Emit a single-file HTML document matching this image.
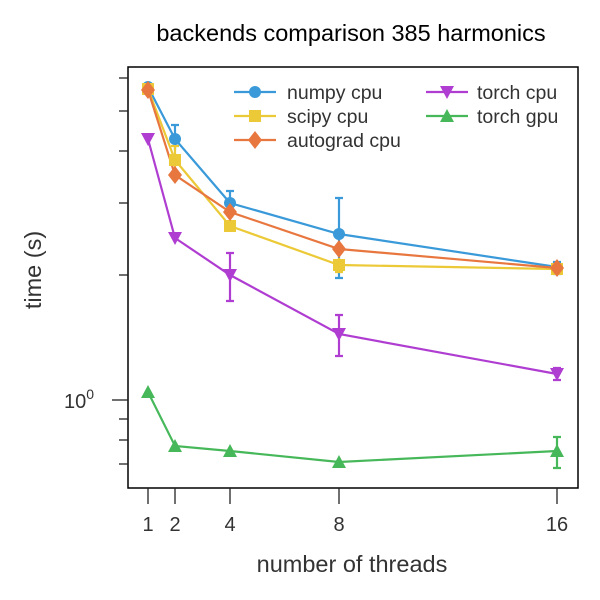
<!DOCTYPE html>
<html><head><meta charset="utf-8"><style>body{margin:0;background:#fff}svg{display:block}text{font-family:"Liberation Sans",sans-serif;fill:#333}</style></head><body>
<svg width="600" height="600" viewBox="0 0 600 600">
<text x="351" y="41" font-size="23.5" text-anchor="middle" style="fill:#000">backends comparison 385 harmonics</text>
<rect x="128" y="67" width="450" height="421" fill="none" stroke="#000" stroke-width="1.5"/>
<g stroke="#222" stroke-width="1.3">
<line x1="112" y1="400" x2="128" y2="400"/>
<line x1="119" y1="78" x2="128" y2="78"/><line x1="119" y1="111" x2="128" y2="111"/><line x1="119" y1="151" x2="128" y2="151"/><line x1="119" y1="203" x2="128" y2="203"/><line x1="119" y1="275" x2="128" y2="275"/><line x1="119" y1="419" x2="128" y2="419"/><line x1="119" y1="440" x2="128" y2="440"/><line x1="119" y1="464" x2="128" y2="464"/>
<line x1="148" y1="488" x2="148" y2="504"/><line x1="175" y1="488" x2="175" y2="504"/><line x1="230" y1="488" x2="230" y2="504"/><line x1="339" y1="488" x2="339" y2="504"/><line x1="557" y1="488" x2="557" y2="504"/>
</g>
<text x="64" y="408" font-size="20">10<tspan dy="-9" font-size="14">0</tspan></text>
<g font-size="20" text-anchor="middle"><text x="148" y="531">1</text><text x="175" y="531">2</text><text x="230" y="531">4</text><text x="339" y="531">8</text><text x="557" y="531">16</text></g>
<text x="352" y="572" font-size="23.5" text-anchor="middle">number of threads</text>
<text transform="translate(41,270) rotate(-90)" font-size="23.5" text-anchor="middle">time (s)</text>
<g stroke-width="2.2" fill="none">
<g stroke="#3a9ad9"><path d="M175 125V150M171 125h8M230 191V212M226 191h8M339 198V278M335 198h8M335 278h8M557 262V274M553 262h8M553 274h8"/></g>
<g stroke="#ecc937"><path d="M175 146V172M171 146h8M339 258V272M335 272h8"/></g>
<g stroke="#b03dd1"><path d="M230 253V301M226 253h8M226 301h8M339 315V356M335 315h8M335 356h8M557 368V380M553 368h8M553 380h8"/></g>
<g stroke="#47b85a"><path d="M557 437V468M553 437h8M553 468h8"/></g>
<polyline stroke="#3a9ad9" points="148,87 175,139 230,203 339,234 557,267"/>
<polyline stroke="#ecc937" points="148,89 175,160 230,226 339,265 557,269"/>
<polyline stroke="#e8773f" points="148,90 175,175 230,212 339,249 557,268"/>
<polyline stroke="#b03dd1" points="148,139 175,238 230,275 339,334 557,374"/>
<polyline stroke="#47b85a" points="148,392 175,446 230,451 339,462 557,451"/>
</g>
<g fill="#3a9ad9"><circle cx="148" cy="87" r="6"/><circle cx="175" cy="139" r="6"/><circle cx="230" cy="203" r="6"/><circle cx="339" cy="234" r="6"/><circle cx="557" cy="267" r="6"/></g>
<g fill="#ecc937"><rect x="142" y="83" width="12" height="12"/><rect x="169" y="154" width="12" height="12"/><rect x="224" y="220" width="12" height="12"/><rect x="333" y="259" width="12" height="12"/><rect x="551" y="263" width="12" height="12"/></g>
<g fill="#e8773f"><path d="M148 81l7 9-7 9-7-9z"/><path d="M175 166l7 9-7 9-7-9z"/><path d="M230 203l7 9-7 9-7-9z"/><path d="M339 240l7 9-7 9-7-9z"/><path d="M557 259l7 9-7 9-7-9z"/></g>
<g fill="#b03dd1"><path d="M141 133h14l-7 13z"/><path d="M168 232h14l-7 13z"/><path d="M223 269h14l-7 13z"/><path d="M332 328h14l-7 13z"/><path d="M550 368h14l-7 13z"/></g>
<g fill="#47b85a"><path d="M141 398h14l-7-13z"/><path d="M168 452h14l-7-13z"/><path d="M223 457h14l-7-13z"/><path d="M332 468h14l-7-13z"/><path d="M550 457h14l-7-13z"/></g>
<g stroke-width="2.2"><line x1="234" y1="92" x2="276" y2="92" stroke="#3a9ad9"/><line x1="234" y1="116" x2="276" y2="116" stroke="#ecc937"/><line x1="234" y1="140" x2="276" y2="140" stroke="#e8773f"/><line x1="426" y1="92" x2="468" y2="92" stroke="#b03dd1"/><line x1="426" y1="116" x2="468" y2="116" stroke="#47b85a"/></g>
<circle cx="255" cy="92" r="6" fill="#3a9ad9"/><rect x="249" y="110" width="12" height="12" fill="#ecc937"/><path d="M255 131l7 9-7 9-7-9z" fill="#e8773f"/><path d="M440 86h14l-7 13z" fill="#b03dd1"/><path d="M440 122h14l-7-13z" fill="#47b85a"/>
<g font-size="19.5"><text x="287" y="99">numpy cpu</text><text x="287" y="123">scipy cpu</text><text x="287" y="147">autograd cpu</text><text x="477" y="99">torch cpu</text><text x="477" y="123">torch gpu</text></g>
</svg>
</body></html>
